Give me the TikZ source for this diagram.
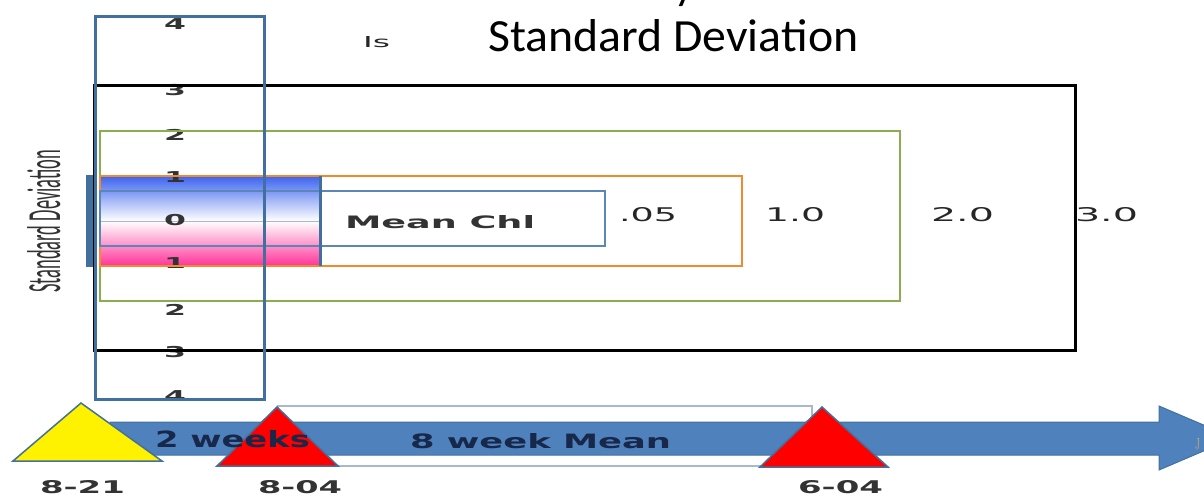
\documentclass[tikz,border=0pt]{standalone}
\usepackage{fontspec}
\usepackage{graphicx}
\newfontfamily\dvfont{DejaVu Sans}
\newfontfamily\dvbold{DejaVu Sans Bold}
\newfontfamily\cbfont{Carlito}
\definecolor{axisblue}{HTML}{41709E}
\definecolor{boxblue}{HTML}{5A86B8}
\definecolor{arrowblue}{HTML}{4F81BD}
\definecolor{arrowedge}{HTML}{41719C}
\definecolor{greenline}{HTML}{8AAE4E}
\definecolor{orangeline}{HTML}{F08A30}
\definecolor{gradblue}{HTML}{3C64F0}
\definecolor{gradpink}{HTML}{FF3399}
\definecolor{labgray}{HTML}{333333}
\definecolor{navytext}{HTML}{17284A}
\definecolor{bracketline}{HTML}{A8B8D0}
\definecolor{jcolor}{HTML}{C8A46E}
\newcommand{\fitto}[3]{\resizebox{#1pt}{#2pt}{#3}}
\newcommand{\axdigit}[1]{\scalebox{2.1}[1]{\fontsize{15}{15}\selectfont\dvbold #1}}
\begin{document}
\begin{tikzpicture}[x=1pt,y=-1pt,
  lab/.style={inner sep=0pt,outer sep=0pt,anchor=base west,text=labgray,font=\dvbold},
  scalelab/.style={lab,font=\dvfont,text=black!85},
  axnum/.style={inner sep=0pt,outer sep=0pt,anchor=center,text=labgray},
  tri/.style={draw=arrowedge,line width=1.5pt,line join=miter}]
\useasboundingbox (0,0) rectangle (1204,497);
\clip (0,0) rectangle (1204,497);
% title
\node[inner sep=0pt,anchor=base west,font=\cbfont] (title) at (488,52) {\fitto{370}{32}{Standard Deviation}};
\node[inner sep=0pt,anchor=base west,font=\cbfont\fontsize{44}{44}\selectfont] (cut) at (674,0) {y};
\node[scalelab] (is) at (363,48) {\fitto{27}{11}{Is}};
% vertical label
\node[inner sep=0pt,anchor=base west,rotate=90,text=labgray,font=\cbfont] (vlabel) at (60,293) {\fitto{143}{33}{Standard Deviation}};
% gradient fills
\shade[top color=gradblue,bottom color=white] (100,176) rectangle (320,221);
\shade[top color=white,bottom color=gradpink] (100,221) rectangle (320,266);
\draw[bracketline,line width=1pt] (100,221) -- (320,221);
% left blue bar
\fill[axisblue] (86,175) rectangle (96,267);
% axis digits
\node[axnum] (d4a) at (175,24) {\axdigit{4}};
\node[axnum] (d3a) at (175,90) {\axdigit{3}};
\node[axnum] (d2a) at (175,135) {\axdigit{2}};
\node[axnum] (d1a) at (175,177) {\axdigit{1}};
\node[axnum] (d0) at (175,220) {\axdigit{0}};
\node[axnum] (d1b) at (175,263) {\axdigit{1}};
\node[axnum] (d2b) at (175,310) {\axdigit{2}};
\node[axnum] (d3b) at (175,352) {\axdigit{3}};
\node[axnum] (d4b) at (175,396) {\axdigit{4}};
% rectangles
\draw[black,line width=3pt] (94,86) rectangle (1075,350);
\draw[greenline,line width=2.5pt] (100,131) rectangle (900,301);
\draw[orangeline,line width=2pt] (100,176) rectangle (742,266);
\draw[boxblue,line width=2pt] (100,191) rectangle (605,246);
\draw[axisblue,line width=3pt] (320,176) -- (320,266);
\draw[axisblue,line width=3pt] (95,17) rectangle (264,399);
% labels
\node[lab] (mean) at (345,228) {\fitto{190}{13}{Mean Chl}};
\node[scalelab] (s05) at (619,221) {\fitto{58}{14}{.05}};
\node[scalelab] (s10) at (765,221) {\fitto{60}{14}{1.0}};
\node[scalelab] (s20) at (931,221) {\fitto{63}{14}{2.0}};
\node[scalelab] (s30) at (1075,221) {\fitto{63}{14}{3.0}};
% timeline
\draw[bracketline,line width=1.2pt,fill=white] (278,406) rectangle (812,466);
\draw[arrowedge,fill=arrowblue,line width=1pt,line join=miter]
  (110,422) -- (1159,422) -- (1159,406) -- (1234,438) -- (1159,470) -- (1159,455) -- (110,455) -- cycle;
\node[inner sep=0pt,anchor=base west,text=jcolor] (jmark) at (1195,449) {\fitto{5}{11}{J}};
\draw[tri,fill=yellow] (13,461) -- (81,403) -- (162,461) -- cycle;
\draw[tri,fill=red] (217,466) -- (277,407) -- (338,466) -- cycle;
\draw[tri,fill=red] (760,467) -- (822,407) -- (888,467) -- cycle;
\node[lab,text=navytext] (twow) at (155,447) {\fitto{155}{17}{2 weeks}};
\node[lab,text=navytext] (eightw) at (410,448) {\fitto{261}{15}{8 week Mean}};
\node[lab] (t821) at (40,493) {\fitto{85}{13}{8-21}};
\node[lab] (t804) at (258,493) {\fitto{84}{13}{8-04}};
\node[lab] (t604) at (798,493) {\fitto{85}{13}{6-04}};
\end{tikzpicture}
\end{document}
